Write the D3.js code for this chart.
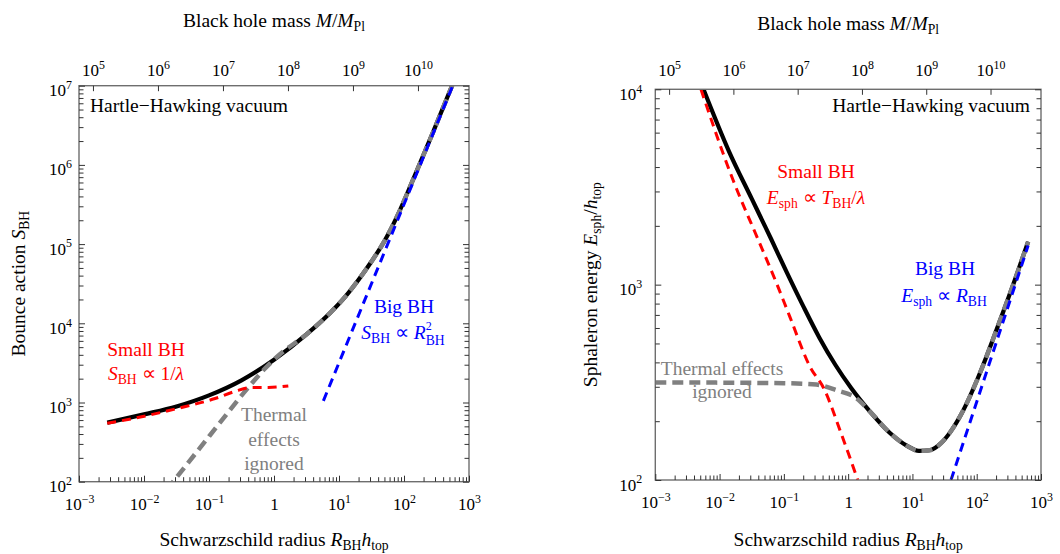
<!DOCTYPE html>
<html>
<head>
<meta charset="utf-8">
<script src="https://cdn.jsdelivr.net/npm/d3@7"></script>
<style>
  body { margin: 0; background: #fff; }
  svg { display: block; font-family: "Liberation Serif", "Times New Roman", serif; }
</style>
</head>
<body>
<svg id="chart" width="1060" height="554"></svg>
<script>
// top axis: M/M_Pl is proportional to R_BH h_top
const MASS_PER_RADIUS = 6.1e7;

const radiusTicks = [1e-3, 1e-2, 1e-1, 1, 1e1, 1e2, 1e3];
const massTicks = [1e5, 1e6, 1e7, 1e8, 1e9, 1e10];
const actionTicks = [1e2, 1e3, 1e4, 1e5, 1e6, 1e7];
const energyTicks = [1e2, 1e3, 1e4];

// left panel: bounce action S_BH vs R_BH h_top
const bounceFull = [
  [2.72e-3, 556], [0.01, 708], [0.0316, 891], [0.1, 1230], [0.316, 1905],
  [1, 3467], [3.16, 7244], [7.28, 13490], [12.6, 21880], [20, 35480],
  [31.6, 60260], [50.1, 109600], [79.4, 229100], [139, 660700], [282, 2.63e6],
  [562, 1.05e7]
];
const bounceNoThermal = [
  [0.0224, 79], [0.1, 372], [0.403, 1550], [0.708, 2630], [1.16, 3890]
];
const bounceSmall = [
  [2.72e-3, 546], [9.2e-3, 661], [0.0337, 845], [0.124, 1122], [0.251, 1380],
  [0.454, 1550], [0.817, 1550], [1.66, 1620]
];
const bounceBig = [[5.75, 1050], [562, 1e7]];

// right panel: sphaleron energy E_sph/h_top vs R_BH h_top
const sphFull = [
  [5.62e-3, 10000], [0.0141, 4786], [0.0316, 2754], [0.0631, 1718], [0.112, 1148],
  [0.2, 776], [0.355, 537], [0.631, 389], [1.12, 295], [2.19, 224], [4.47, 174],
  [8.13, 150], [12.6, 141], [18.6, 142], [28.2, 155], [39.8, 178], [58.2, 219],
  [112, 352], [204, 589], [398, 1072], [631, 1660]
];
const sphNoThermal = [
  [1e-3, 316], [0.1, 313], [0.32, 308], [0.66, 288], [1.35, 262]
];
const sphSmall = [
  [5.13e-3, 10000], [0.0162, 3430], [0.0398, 1700], [0.0776, 1010], [0.124, 684],
  [0.255, 380], [0.417, 295], [0.794, 170], [1.41, 100]
];
const sphBig = [[39.8, 100], [631, 1585]];

const RED = "#ff0000";
const BLUE = "#0000ff";
const GRAY = "#808080";

const svg = d3.select("#chart");

// text with italics / sub- and superscripts
function rich(sel, parts, size) {
  let shift = 0;
  parts.forEach((p) => {
    let level = p.sub ? size * 0.2 : p.sup ? -size * 0.42 : 0;
    if (p.level !== undefined) level = p.level;
    const ts = sel.append("tspan").text(p.t);
    if (level !== shift) ts.attr("dy", level - shift);
    shift = level;
    if (p.it) ts.attr("font-style", "italic");
    if (p.sub || p.sup) ts.attr("font-size", size * (p.scale || 0.7));
    if (p.dx) ts.attr("dx", p.dx);
  });
  return sel;
}

function powerLabel(sel, v, size) {
  const e = Math.round(Math.log10(v));
  sel.text(null);
  if (e === 0) {
    sel.append("tspan").text("1");
    return;
  }
  rich(sel, [{ t: "10" }, { t: e < 0 ? "\u2212" + -e : String(e), sup: true }], size);
}

function styleAxis(g) {
  g.attr("font-size", null).attr("font-family", null);
  g.select(".domain").remove();
  g.selectAll(".tick line").attr("stroke", "#333").attr("stroke-width", 1);
}

function drawPanel(cfg) {
  const { x0, x1, y0, y1, yDomain, yTicks, labelGap, id } = cfg;
  const x = d3.scaleLog().domain([1e-3, 1e3]).range([x0, x1]);
  const y = d3.scaleLog().domain(yDomain).range([y1, y0]);
  const mass = d3
    .scaleLog()
    .domain([1e-3 * MASS_PER_RADIUS, 1e3 * MASS_PER_RADIUS])
    .range([x0, x1]);

  const g = svg.append("g");

  g.append("clipPath")
    .attr("id", id)
    .append("rect")
    .attr("x", x0)
    .attr("y", y0)
    .attr("width", x1 - x0)
    .attr("height", y1 - y0);

  const line = d3
    .line()
    .x((d) => x(d[0]))
    .y((d) => y(d[1]))
    .curve(d3.curveMonotoneX);

  const curves = g.append("g").attr("clip-path", `url(#${id})`).attr("fill", "none");

  cfg.series.forEach((s) => {
    curves
      .append("path")
      .attr("d", line(s.data))
      .attr("stroke", s.color)
      .attr("stroke-width", s.width)
      .attr("stroke-dasharray", s.dash || null)
      .attr("stroke-linejoin", "round");
  });

  // frame
  g.append("rect")
    .attr("x", x0)
    .attr("y", y0)
    .attr("width", x1 - x0)
    .attr("height", y1 - y0)
    .attr("fill", "none")
    .attr("stroke", "#6e6e6e")
    .attr("stroke-width", 1.4);

  const xMinor = x.ticks().filter((v) => !radiusTicks.includes(v));
  const yMinor = y.ticks().filter((v) => !yTicks.includes(v));

  // bottom axis
  g.append("g")
    .attr("transform", `translate(0,${y1})`)
    .call(d3.axisBottom(x).tickValues(xMinor).tickSize(-4.5).tickFormat(""))
    .call(styleAxis)
    .call((a) => a.selectAll("text").remove());

  g.append("g")
    .attr("transform", `translate(0,${y1})`)
    .call(d3.axisBottom(x).tickValues(radiusTicks).tickSize(-6).tickFormat(""))
    .call(styleAxis)
    .call((a) =>
      a
        .selectAll(".tick text")
        .attr("y", 28)
        .attr("dy", null)
        .attr("fill", "#000")
        .attr("font-size", 17)
        .each(function (d) {
          powerLabel(d3.select(this), d, 17);
        })
    );

  // top axis: black hole mass
  g.append("g")
    .attr("transform", `translate(0,${y0})`)
    .call(d3.axisTop(mass).tickValues(massTicks).tickSize(-5.5).tickFormat(""))
    .call(styleAxis)
    .call((a) =>
      a
        .selectAll(".tick text")
        .attr("y", 76 - y0)
        .attr("dy", null)
        .attr("fill", "#000")
        .attr("font-size", 17)
        .each(function (d) {
          powerLabel(d3.select(this), d, 17);
        })
    );

  // left / right axes
  [
    { axis: d3.axisLeft, pos: x0 },
    { axis: d3.axisRight, pos: x1 }
  ].forEach(({ axis, pos }, i) => {
    g.append("g")
      .attr("transform", `translate(${pos},0)`)
      .call(axis(y).tickValues(yMinor).tickSize(-4.5).tickFormat(""))
      .call(styleAxis)
      .call((a) => a.selectAll("text").remove());
    const major = g
      .append("g")
      .attr("transform", `translate(${pos},0)`)
      .call(axis(y).tickValues(yTicks).tickSize(-6).tickFormat(""))
      .call(styleAxis);
    if (i === 0) {
      major
        .selectAll(".tick text")
        .attr("x", -labelGap)
        .attr("dy", 10)
        .attr("fill", "#000")
        .attr("font-size", 17)
        .attr("text-anchor", "end")
        .each(function (d) {
          powerLabel(d3.select(this), d, 17);
        });
    } else {
      major.selectAll("text").remove();
    }
  });

  // axis titles
  rich(
    g.append("text")
      .attr("x", (x0 + x1) / 2)
      .attr("y", cfg.topTitleY)
      .attr("text-anchor", "middle")
      .attr("font-size", 19.5),
    [{ t: "Black hole mass " }, { t: "M", it: true }, { t: "/" }, { t: "M", it: true }, { t: "Pl", sub: true }],
    19.5
  );
  rich(
    g.append("text")
      .attr("x", (x0 + x1) / 2)
      .attr("y", 546)
      .attr("text-anchor", "middle")
      .attr("font-size", 19.5),
    [
      { t: "Schwarzschild radius " },
      { t: "R", it: true },
      { t: "BH", sub: true },
      { t: "h", it: true },
      { t: "top", sub: true }
    ],
    19.5
  );
  rich(
    g.append("text")
      .attr("transform", `translate(${cfg.titleX},${(y0 + y1) / 2}) rotate(-90)`)
      .attr("text-anchor", "middle")
      .attr("font-size", 19.5),
    cfg.yTitle,
    19.5
  );

  return { x, y, g };
}

drawPanel({
  id: "clipLeft",
  x0: 79,
  x1: 469,
  y0: 85.7,
  y1: 481.7,
  yDomain: [1e2, 1e7],
  yTicks: actionTicks,
  labelGap: 7,
  titleX: 25,
  topTitleY: 27,
  yTitle: [{ t: "Bounce action " }, { t: "S", it: true }, { t: "BH", sub: true }],
  series: [
    { data: bounceFull, color: "#000", width: 4.2 },
    {
      data: bounceNoThermal.concat(bounceFull.filter((d) => d[0] > 2)),
      color: GRAY,
      width: 4.5,
      dash: "11,6"
    },
    { data: bounceSmall, color: RED, width: 3, dash: "9,6" },
    { data: bounceBig, color: BLUE, width: 3, dash: "9,6" }
  ]
});

drawPanel({
  id: "clipRight",
  x0: 655.3,
  x1: 1041,
  y0: 89.3,
  y1: 480,
  yDomain: [1e2, 1e4],
  yTicks: energyTicks,
  labelGap: 13,
  titleX: 597,
  topTitleY: 30,
  yTitle: [
    { t: "Sphaleron energy " },
    { t: "E", it: true },
    { t: "sph", sub: true },
    { t: "/" },
    { t: "h", it: true },
    { t: "top", sub: true }
  ],
  series: [
    { data: sphFull, color: "#000", width: 4.2 },
    {
      data: sphNoThermal.concat(sphFull.filter((d) => d[0] > 2)),
      color: GRAY,
      width: 4.5,
      dash: "11,6"
    },
    { data: sphSmall, color: RED, width: 3, dash: "9,6" },
    { data: sphBig, color: BLUE, width: 3, dash: "9,6" }
  ]
});

// annotations
function note(x, y, parts, color, anchor) {
  rich(
    svg.append("text")
      .attr("x", x)
      .attr("y", y)
      .attr("text-anchor", anchor || "middle")
      .attr("font-size", 19.5)
      .attr("fill", color),
    parts,
    19.5
  );
}

note(90, 112, [{ t: "Hartle\u2212Hawking vacuum" }], "#000", "start");
note(1030, 112, [{ t: "Hartle\u2212Hawking vacuum" }], "#000", "end");

note(146, 356, [{ t: "Small BH" }], RED);
note(146, 380, [{ t: "S", it: true }, { t: "BH", sub: true }, { t: " \u221d 1/" }, { t: "\u03bb", it: true }], RED);
note(404, 313, [{ t: "Big BH" }], BLUE);
note(403, 339, [
  { t: "S", it: true },
  { t: "BH", sub: true },
  { t: " \u221d " },
  { t: "R", it: true },
  { t: "2", sup: true, level: -9, scale: 0.62 },
  { t: "BH", sub: true, level: 6, dx: -6 }
], BLUE);
note(274, 421, [{ t: "Thermal" }], GRAY);
note(274, 446, [{ t: "effects" }], GRAY);
note(274, 470, [{ t: "ignored" }], GRAY);

note(816, 178, [{ t: "Small BH" }], RED);
note(816, 204, [
  { t: "E", it: true },
  { t: "sph", sub: true },
  { t: " \u221d " },
  { t: "T", it: true },
  { t: "BH", sub: true },
  { t: "/" },
  { t: "\u03bb", it: true }
], RED);
note(945, 275, [{ t: "Big BH" }], BLUE);
note(944, 302, [{ t: "E", it: true }, { t: "sph", sub: true }, { t: " \u221d " }, { t: "R", it: true }, { t: "BH", sub: true }], BLUE);
note(722, 375, [{ t: "Thermal effects" }], GRAY);
note(722, 398, [{ t: "ignored" }], GRAY);
</script>
</body>
</html>
